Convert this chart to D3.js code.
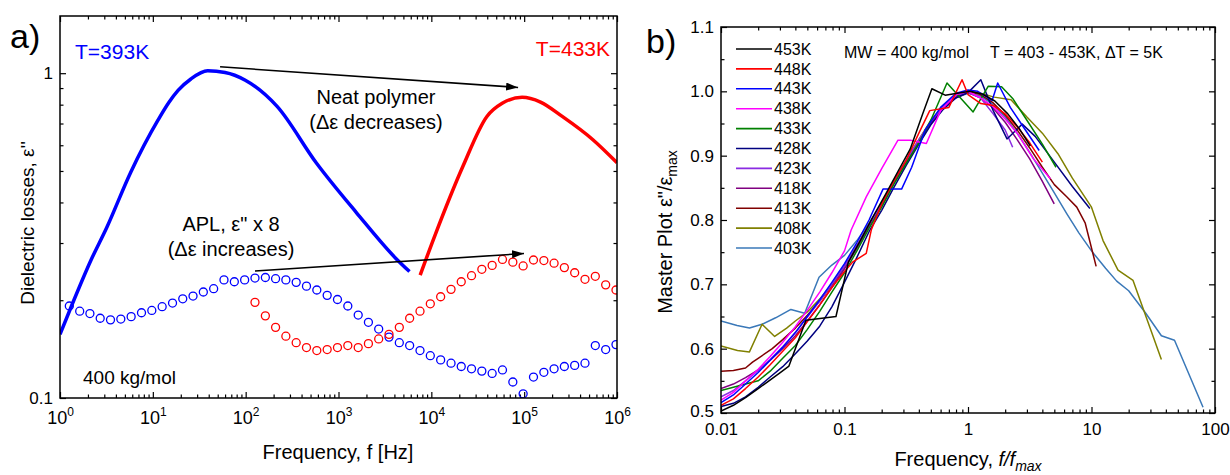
<!DOCTYPE html>
<html>
<head>
<meta charset="utf-8">
<script src="https://cdnjs.cloudflare.com/ajax/libs/d3/7.8.5/d3.min.js"></script>
<style>
body { margin: 0; background: #fff; }
svg { display: block; font-family: "Liberation Sans", Arial, sans-serif; }
</style>
</head>
<body>
<div id="chart"></div>
<script>
// ---------- panel a data ----------
// APL points (x8), measured frequencies in Hz
const freqAPL = [1.26, 1.63, 2.10, 2.71, 3.50, 4.52, 5.84, 7.55, 9.75,
  12.6, 16.3, 21.0, 27.1, 35.0, 45.2, 58.4, 75.5, 97.5,
  126, 163, 210, 271, 350, 452, 584, 755, 975,
  1260, 1630, 2100, 2710, 3500, 4520, 5840, 7550, 9750,
  1.26e4, 1.63e4, 2.10e4, 2.71e4, 3.50e4, 4.52e4, 5.84e4, 7.55e4, 9.75e4,
  1.26e5, 1.63e5, 2.10e5, 2.71e5, 3.50e5, 4.52e5, 5.84e5, 7.55e5, 9.75e5];
const aplBlue = [0.192, 0.185, 0.182, 0.176, 0.174, 0.175, 0.178, 0.183, 0.186,
  0.191, 0.196, 0.202, 0.206, 0.212, 0.217, 0.231, 0.228, 0.231,
  0.234, 0.235, 0.233, 0.231, 0.227, 0.221, 0.215, 0.207, 0.201,
  0.192, 0.180, 0.171, 0.163, 0.154, 0.148, 0.145, 0.140, 0.135,
  0.131, 0.128, 0.125, 0.123, 0.121, 0.119, 0.122, 0.112, 0.103,
  0.116, 0.120, 0.123, 0.125, 0.126, 0.128, 0.145, 0.141, 0.146];
// red APL set starts at 126 Hz
const aplRed = [0.197, 0.179, 0.165, 0.155, 0.148, 0.143, 0.140, 0.141, 0.143,
  0.145, 0.143, 0.147, 0.152, 0.157, 0.165, 0.176, 0.185, 0.195,
  0.205, 0.216, 0.228, 0.238, 0.249, 0.256, 0.267, 0.262, 0.255,
  0.266, 0.265, 0.260, 0.252, 0.243, 0.232, 0.237, 0.223, 0.215];

// neat polymer curves
const neatBlueF = [1, 1.32, 2.16, 3.19, 5.75, 11.4, 15, 18.7, 25.7, 39, 60, 98, 218, 575, 1550, 4150, 5820];
const neatBlueE = [0.157, 0.191, 0.266, 0.335, 0.494, 0.718, 0.815, 0.885, 0.96, 1.017, 1.005, 0.953, 0.79, 0.53, 0.373, 0.269, 0.245];
const neatRedF = [7580, 11000, 21900, 39700, 58000, 95000, 150000, 257000, 550000, 1e6];
const neatRedE = [0.239, 0.318, 0.517, 0.736, 0.808, 0.843, 0.815, 0.736, 0.624, 0.53];

// ---------- panel b data: [f/fmax, eps''/eps_max] ----------
const k453 = [[0.01,0.503],[0.0126,0.512],[0.0158,0.524],[0.02,0.538],[0.0225,0.545],[0.0298,0.562],[0.0355,0.573],[0.0487,0.644],[0.0853,0.65],[0.1076,0.735],[0.136,0.77],[0.17,0.805],[0.215,0.84],[0.27,0.875],[0.34,0.91],[0.43,0.965],[0.51,1.004],[0.653,0.994],[0.82,0.997],[1.04,1.0],[1.3,0.996],[1.65,0.985],[2.1,0.965],[2.6,0.942],[3.2,0.915]];
const k448 = [[0.01,0.512],[0.0126,0.522],[0.0158,0.538],[0.02,0.556],[0.025,0.575],[0.0316,0.596],[0.04,0.617],[0.05,0.642],[0.063,0.668],[0.079,0.695],[0.1,0.72],[0.117,0.735],[0.15,0.748],[0.165,0.785],[0.2,0.825],[0.25,0.86],[0.316,0.893],[0.4,0.935],[0.49,0.97],[0.7,0.975],[0.895,1.018],[1.0,0.995],[1.27,0.981],[1.6,0.978],[2,0.965],[2.5,0.945],[3.16,0.92],[4,0.89]];
const k443 = [[0.01,0.516],[0.0126,0.528],[0.0158,0.545],[0.02,0.563],[0.025,0.582],[0.0316,0.602],[0.04,0.625],[0.05,0.65],[0.063,0.676],[0.079,0.703],[0.1,0.732],[0.126,0.765],[0.158,0.8],[0.205,0.848],[0.29,0.848],[0.35,0.882],[0.45,0.94],[0.6,0.975],[0.8,0.997],[1,1.002],[1.2,1.0],[1.57,0.986],[1.74,1.013],[2.2,0.975],[2.8,0.945],[3.77,0.908]];
const k438 = [[0.01,0.52],[0.0126,0.532],[0.0158,0.55],[0.02,0.568],[0.025,0.588],[0.0316,0.61],[0.04,0.634],[0.05,0.66],[0.063,0.688],[0.079,0.718],[0.1,0.752],[0.113,0.784],[0.15,0.836],[0.2,0.88],[0.271,0.924],[0.342,0.924],[0.46,0.919],[0.6,0.97],[0.8,0.995],[1,1.0],[1.26,0.99],[1.58,0.977],[2,0.957],[2.5,0.935],[3.39,0.895],[4.65,0.864]];
const k433 = [[0.01,0.535],[0.0126,0.54],[0.0158,0.545],[0.02,0.55],[0.025,0.565],[0.0316,0.585],[0.04,0.605],[0.05,0.63],[0.063,0.658],[0.079,0.688],[0.1,0.718],[0.126,0.752],[0.158,0.787],[0.2,0.82],[0.25,0.855],[0.316,0.888],[0.4,0.92],[0.5,0.955],[0.676,1.013],[1.1,0.968],[1.46,1.008],[1.87,1.007],[2.3,0.989],[3,0.955],[4,0.918],[5.16,0.882]];
const k428 = [[0.01,0.51],[0.0126,0.515],[0.0158,0.525],[0.02,0.54],[0.025,0.556],[0.0316,0.572],[0.04,0.592],[0.05,0.612],[0.063,0.635],[0.079,0.665],[0.098,0.7],[0.126,0.742],[0.16,0.784],[0.2,0.815],[0.25,0.85],[0.316,0.885],[0.4,0.918],[0.5,0.948],[0.63,0.972],[0.8,0.99],[1,0.998],[1.27,1.018],[1.6,0.97],[2.07,0.926],[2.75,0.949],[3.5,0.93],[5,0.89],[7,0.852],[9.7,0.818]];
const k423 = [[0.01,0.525],[0.0126,0.535],[0.0158,0.55],[0.02,0.566],[0.025,0.583],[0.0316,0.603],[0.04,0.625],[0.05,0.649],[0.063,0.674],[0.079,0.7],[0.1,0.728],[0.126,0.76],[0.158,0.793],[0.2,0.826],[0.25,0.86],[0.316,0.893],[0.4,0.925],[0.5,0.953],[0.63,0.976],[0.8,0.993],[1,0.998],[1.26,0.99],[1.6,0.965],[2.0,0.94],[2.3,0.913]];
const k418 = [[0.01,0.538],[0.0126,0.545],[0.0158,0.555],[0.02,0.567],[0.025,0.582],[0.0316,0.6],[0.04,0.62],[0.05,0.643],[0.063,0.668],[0.079,0.695],[0.1,0.724],[0.126,0.756],[0.158,0.79],[0.2,0.824],[0.25,0.858],[0.316,0.891],[0.4,0.922],[0.5,0.951],[0.63,0.974],[0.8,0.99],[1,0.998],[1.26,0.99],[1.58,0.975],[2,0.952],[2.5,0.925],[3.16,0.895],[4,0.86],[4.99,0.825]];
const k413 = [[0.01,0.565],[0.0126,0.566],[0.0158,0.57],[0.018,0.579],[0.02,0.585],[0.026,0.6],[0.0316,0.614],[0.04,0.632],[0.05,0.652],[0.063,0.674],[0.079,0.699],[0.1,0.727],[0.126,0.758],[0.158,0.792],[0.2,0.825],[0.25,0.858],[0.316,0.891],[0.4,0.922],[0.5,0.952],[0.63,0.975],[0.8,0.992],[1,1.0],[1.26,0.995],[1.58,0.983],[2,0.963],[2.5,0.94],[3.16,0.912],[4,0.882],[5,0.855],[6.3,0.836],[7.6,0.82],[8.9,0.795],[10.9,0.728]];
const k408 = [[0.01,0.604],[0.0136,0.597],[0.017,0.595],[0.0215,0.638],[0.0272,0.619],[0.034,0.632],[0.04,0.643],[0.05,0.657],[0.063,0.677],[0.079,0.7],[0.1,0.728],[0.126,0.76],[0.158,0.793],[0.2,0.826],[0.25,0.86],[0.316,0.893],[0.4,0.925],[0.5,0.955],[0.63,0.977],[0.8,0.993],[1,1.0],[1.26,0.997],[1.63,0.991],[2.23,0.987],[3,0.96],[4,0.935],[5.35,0.903],[7,0.865],[10,0.82],[12.4,0.768],[16.4,0.722],[21.7,0.706],[36.8,0.583]];
const k403 = [[0.01,0.643],[0.0135,0.636],[0.017,0.632],[0.0215,0.638],[0.0277,0.648],[0.0368,0.661],[0.0476,0.655],[0.0622,0.711],[0.079,0.73],[0.1,0.745],[0.126,0.768],[0.158,0.795],[0.2,0.826],[0.25,0.858],[0.316,0.89],[0.4,0.921],[0.5,0.95],[0.63,0.973],[0.8,0.99],[1,0.997],[1.26,0.993],[1.58,0.98],[2,0.96],[2.5,0.935],[3.16,0.905],[4,0.873],[5,0.842],[6.3,0.81],[7.9,0.78],[10,0.752],[13,0.725],[16,0.705],[20,0.69],[27.5,0.655],[36.8,0.62],[47,0.613],[80,0.509]];

const tempLabels = ['453K', '448K', '443K', '438K', '433K', '428K', '423K', '418K', '413K', '408K', '403K'];
const tempColors = ['#000000', '#ff0000', '#0000ff', '#ff00ff', '#008000', '#000080', '#8a2be2', '#800080', '#800000', '#808000', '#3a78b8'];
const masterSeries = [k453, k448, k443, k438, k433, k428, k423, k418, k413, k408, k403];

// ---------- layout ----------
const fontFamily = '"Liberation Sans", Arial, sans-serif';
const boxA = {left: 60, right: 617, top: 16, bottom: 398};
const boxB = {left: 721, right: 1215, top: 27, bottom: 413};

const svg = d3.select('#chart').append('svg')
    .attr('width', 1230)
    .attr('height', 475);

const defs = svg.append('defs');
defs.append('marker')
    .attr('id', 'arrow')
    .attr('markerUnits', 'userSpaceOnUse')
    .attr('viewBox', '0 0 12 8')
    .attr('refX', 12).attr('refY', 4)
    .attr('markerWidth', 12).attr('markerHeight', 8)
    .attr('orient', 'auto')
    .append('path').attr('d', 'M0,0L12,4L0,8Z').attr('fill', '#000');
defs.append('clipPath').attr('id', 'clipA').append('rect')
    .attr('x', boxA.left).attr('y', boxA.top)
    .attr('width', boxA.right - boxA.left).attr('height', boxA.bottom - boxA.top);
defs.append('clipPath').attr('id', 'clipB').append('rect')
    .attr('x', boxB.left).attr('y', boxB.top)
    .attr('width', boxB.right - boxB.left).attr('height', boxB.bottom - boxB.top);

const xA = d3.scaleLog().domain([1, 1e6]).range([boxA.left, boxA.right]);
const yA = d3.scaleLog().domain([0.1, 1.5]).range([boxA.bottom, boxA.top]);
const xB = d3.scaleLog().domain([0.01, 100]).range([boxB.left, boxB.right]);
const yB = d3.scaleLinear().domain([0.5, 1.1]).range([boxB.bottom, boxB.top]);

drawPanelA();
drawPanelB();

// inward ticks on one side of a frame
function drawTicks(scale, orient, pos, values, size) {
    const gen = {bottom: d3.axisBottom, top: d3.axisTop, left: d3.axisLeft, right: d3.axisRight}[orient];
    const horiz = orient === 'bottom' || orient === 'top';
    const g = svg.append('g')
        .attr('transform', horiz ? `translate(0,${pos})` : `translate(${pos},0)`)
        .call(gen(scale).tickValues(values).tickSize(-size).tickFormat(''));
    g.select('.domain').remove();
    g.selectAll('line').attr('stroke', '#000').attr('stroke-width', 1.2);
}

function isDecade(v) {
    const l = Math.log10(v);
    return Math.abs(l - Math.round(l)) < 1e-6;
}

function frame(box) {
    svg.append('rect')
        .attr('x', box.left).attr('y', box.top)
        .attr('width', box.right - box.left).attr('height', box.bottom - box.top)
        .attr('fill', 'none').attr('stroke', '#000').attr('stroke-width', 1.5);
}

function drawPanelA() {
    const xt = xA.ticks();
    const yt = yA.ticks();
    const xMaj = xt.filter(isDecade), xMin = xt.filter(d => !isDecade(d));
    const yMaj = yt.filter(isDecade), yMin = yt.filter(d => !isDecade(d));
    drawTicks(xA, 'bottom', boxA.bottom, xMaj, 6);
    drawTicks(xA, 'bottom', boxA.bottom, xMin, 3.5);
    drawTicks(xA, 'top', boxA.top, xMaj, 6);
    drawTicks(xA, 'top', boxA.top, xMin, 3.5);
    drawTicks(yA, 'left', boxA.left, yMaj, 6);
    drawTicks(yA, 'left', boxA.left, yMin, 3.5);
    drawTicks(yA, 'right', boxA.right, yMaj, 6);
    drawTicks(yA, 'right', boxA.right, yMin, 3.5);

    // x labels 10^n
    const xl = svg.append('g')
        .attr('transform', `translate(0,${boxA.bottom})`)
        .call(d3.axisBottom(xA).tickValues(xMaj).tickSize(0).tickPadding(13).tickFormat(''));
    xl.select('.domain').remove();
    xl.selectAll('.tick text')
        .attr('font-family', fontFamily).attr('font-size', 18).attr('fill', '#000')
        .each(function (d) {
            const t = d3.select(this);
            t.append('tspan').text('10');
            t.append('tspan').attr('dy', '-0.65em').attr('font-size', 12).text(Math.round(Math.log10(d)));
        });

    const yl = svg.append('g')
        .attr('transform', `translate(${boxA.left},0)`)
        .call(d3.axisLeft(yA).tickValues(yMaj).tickSize(0).tickPadding(7).tickFormat(d => String(d)));
    yl.select('.domain').remove();
    yl.selectAll('.tick text').attr('font-family', fontFamily).attr('font-size', 17).attr('fill', '#000');

    const plot = svg.append('g').attr('clip-path', 'url(#clipA)');

    // APL circles
    plot.append('g').selectAll('circle')
        .data(aplBlue.map((e, i) => [freqAPL[i], e]))
        .join('circle')
        .attr('cx', d => xA(d[0])).attr('cy', d => yA(d[1])).attr('r', 4)
        .attr('fill', 'none').attr('stroke', '#0000ff').attr('stroke-width', 1.3);
    const redF = freqAPL.slice(freqAPL.length - aplRed.length);
    plot.append('g').selectAll('circle')
        .data(aplRed.map((e, i) => [redF[i], e]))
        .join('circle')
        .attr('cx', d => xA(d[0])).attr('cy', d => yA(d[1])).attr('r', 4)
        .attr('fill', 'none').attr('stroke', '#ff0000').attr('stroke-width', 1.3);

    // neat polymer lines
    const line = d3.line().x(d => xA(d[0])).y(d => yA(d[1])).curve(d3.curveMonotoneX);
    plot.append('path')
        .attr('d', line(neatBlueF.map((f, i) => [f, neatBlueE[i]])))
        .attr('fill', 'none').attr('stroke', '#0000ff').attr('stroke-width', 3.5);
    plot.append('path')
        .attr('d', line(neatRedF.map((f, i) => [f, neatRedE[i]])))
        .attr('fill', 'none').attr('stroke', '#ff0000').attr('stroke-width', 3.5);

    frame(boxA);

    // arrows (data coordinates)
    svg.append('line')
        .attr('x1', xA(53)).attr('y1', yA(1.046)).attr('x2', xA(86000)).attr('y2', yA(0.904))
        .attr('stroke', '#000').attr('stroke-width', 1.5).attr('marker-end', 'url(#arrow)');
    svg.append('line')
        .attr('x1', xA(126)).attr('y1', yA(0.246)).attr('x2', xA(99600)).attr('y2', yA(0.2786))
        .attr('stroke', '#000').attr('stroke-width', 1.5).attr('marker-end', 'url(#arrow)');

    const txt = (x, y, s, size, color, anchor) => svg.append('text')
        .attr('x', x).attr('y', y).attr('font-family', fontFamily).attr('font-size', size)
        .attr('fill', color || '#000').attr('text-anchor', anchor || 'start').text(s);

    txt(10, 48, 'a)', 34);
    txt(75, 59, 'T=393K', 21, '#0000ff');
    txt(610, 56, 'T=433K', 21, '#ff0000', 'end');
    txt(376, 104, 'Neat polymer', 20, '#000', 'middle');
    txt(376, 129, '(\u0394\u03b5 decreases)', 20, '#000', 'middle');
    txt(231, 231, 'APL, \u03b5" x 8', 20, '#000', 'middle');
    txt(231, 256, '(\u0394\u03b5 increases)', 20, '#000', 'middle');
    txt(83, 384, '400 kg/mol', 19);
    txt(338, 459, 'Frequency, f [Hz]', 20, '#000', 'middle');

    svg.append('text')
        .attr('transform', `translate(34,${(boxA.top + boxA.bottom) / 2 + 16}) rotate(-90)`)
        .attr('font-family', fontFamily).attr('font-size', 19).attr('text-anchor', 'middle')
        .text('Dielectric losses, \u03b5\'\'');
}

function drawPanelB() {
    const xt = xB.ticks();
    const xMaj = xt.filter(isDecade), xMin = xt.filter(d => !isDecade(d));
    const yt = yB.ticks(12);
    const isTenth = v => Math.abs(v * 10 - Math.round(v * 10)) < 1e-6;
    const yMaj = yt.filter(isTenth), yMin = yt.filter(d => !isTenth(d));
    drawTicks(xB, 'bottom', boxB.bottom, xMaj, 6);
    drawTicks(xB, 'bottom', boxB.bottom, xMin, 3.5);
    drawTicks(xB, 'top', boxB.top, xMaj, 6);
    drawTicks(xB, 'top', boxB.top, xMin, 3.5);
    drawTicks(yB, 'left', boxB.left, yMaj, 6);
    drawTicks(yB, 'left', boxB.left, yMin, 3.5);
    drawTicks(yB, 'right', boxB.right, yMaj, 6);
    drawTicks(yB, 'right', boxB.right, yMin, 3.5);

    const xl = svg.append('g')
        .attr('transform', `translate(0,${boxB.bottom})`)
        .call(d3.axisBottom(xB).tickValues(xMaj).tickSize(0).tickPadding(10).tickFormat(d => String(d)));
    xl.select('.domain').remove();
    xl.selectAll('.tick text').attr('font-family', fontFamily).attr('font-size', 17).attr('fill', '#000');

    const yl = svg.append('g')
        .attr('transform', `translate(${boxB.left},0)`)
        .call(d3.axisLeft(yB).tickValues(yMaj).tickSize(0).tickPadding(7).tickFormat(d3.format('.1f')));
    yl.select('.domain').remove();
    yl.selectAll('.tick text').attr('font-family', fontFamily).attr('font-size', 17).attr('fill', '#000')
        .attr('dy', d => d === 0.5 ? '0.2em' : '0.32em');

    const line = d3.line().x(d => xB(d[0])).y(d => yB(d[1]));
    const plot = svg.append('g').attr('clip-path', 'url(#clipB)');
    // draw the lowest temperature first so 453K sits on top
    for (let i = masterSeries.length - 1; i >= 0; i--) {
        plot.append('path')
            .attr('d', line(masterSeries[i]))
            .attr('fill', 'none')
            .attr('stroke', tempColors[i])
            .attr('stroke-width', 1.5)
            .attr('stroke-linejoin', 'round');
    }

    frame(boxB);

    // legend
    const legY = d3.scaleLinear().domain([0, tempLabels.length - 1]).range([49, 248]);
    const leg = svg.append('g');
    tempLabels.forEach((lab, i) => {
        leg.append('line')
            .attr('x1', 736).attr('x2', 772).attr('y1', legY(i)).attr('y2', legY(i))
            .attr('stroke', tempColors[i]).attr('stroke-width', 1.6);
        leg.append('text')
            .attr('x', 774).attr('y', legY(i)).attr('dy', '0.35em')
            .attr('font-family', fontFamily).attr('font-size', 16).text(lab);
    });

    svg.append('text').attr('x', 844).attr('y', 58)
        .attr('font-family', fontFamily).attr('font-size', 16).text('MW = 400 kg/mol');
    svg.append('text').attr('x', 990).attr('y', 58)
        .attr('font-family', fontFamily).attr('font-size', 16).text('T = 403 - 453K, \u0394T = 5K');

    svg.append('text').attr('x', 646).attr('y', 53)
        .attr('font-family', fontFamily).attr('font-size', 34).text('b)');

    // x title
    const xt2 = svg.append('text').attr('x', (boxB.left + boxB.right) / 2).attr('y', 466)
        .attr('font-family', fontFamily).attr('font-size', 20).attr('text-anchor', 'middle');
    xt2.append('tspan').text('Frequency, ');
    xt2.append('tspan').attr('font-style', 'italic').text('f/f');
    xt2.append('tspan').attr('font-style', 'italic').attr('font-size', 14).attr('dy', '0.35em').text('max');

    // y title
    const yt2 = svg.append('text')
        .attr('transform', `translate(672,232) rotate(-90)`)
        .attr('font-family', fontFamily).attr('font-size', 20).attr('text-anchor', 'middle');
    yt2.append('tspan').text('Master Plot \u03b5"/\u03b5');
    yt2.append('tspan').attr('font-size', 14).attr('dy', '0.35em').text('max');
}
</script>
</body>
</html>
